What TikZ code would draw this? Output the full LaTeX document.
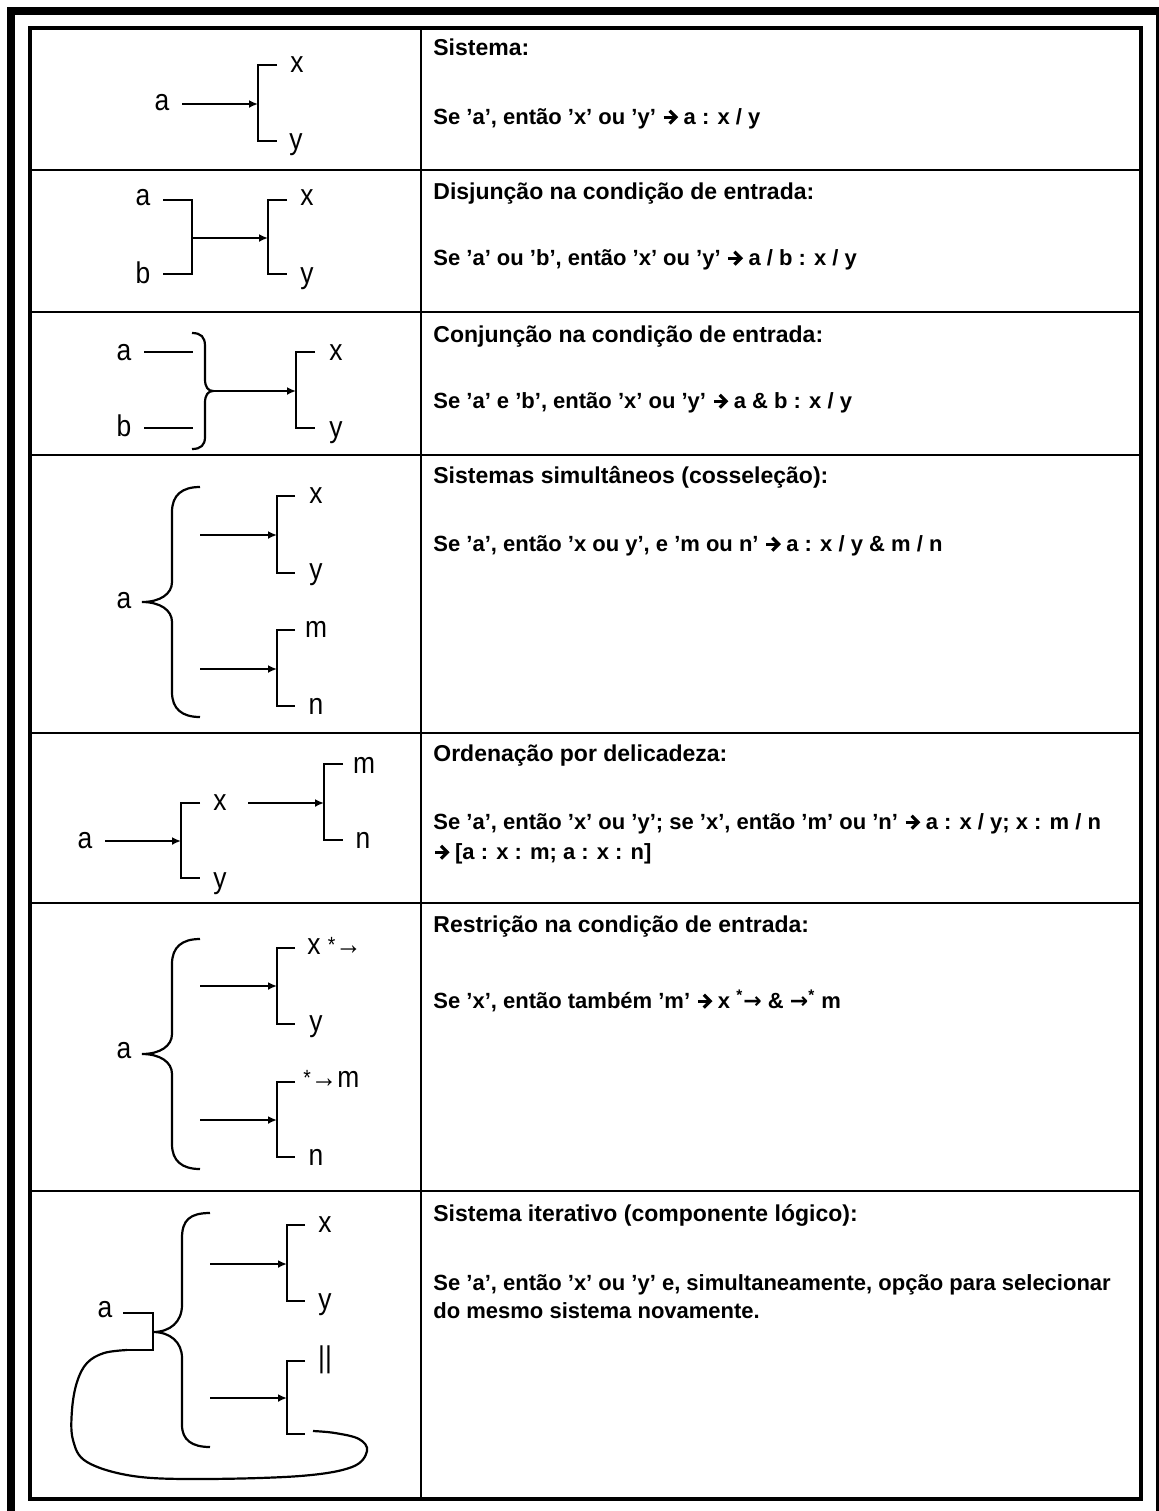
\documentclass[tikz,border=0pt]{standalone}
\usepackage{fontspec}
\usepackage{graphicx}
\setmainfont{Liberation Sans}
\newfontfamily\txtfont{Liberation Sans}
\newfontfamily\lblfont{Liberation Sans}[FakeStretch=0.88]
\newfontfamily\symfont{DejaVu Sans}
\usetikzlibrary{arrows.meta}
\newcommand\bigarr{\tikz[baseline=0pt,x=1pt,y=1pt]{\draw[line width=1.6pt] (0,3.4)--(5.6,3.4); \draw[line width=1.6pt,line join=miter,miter limit=10] (3,6.6)--(6.2,3.4)--(3,0.2);}}
\newcommand\thinarr{{\symfont →}}
\newcommand\brk[4]{\draw[ln] (#3,#1) -- (#2,#1) -- (#2,#4) -- (#3,#4);}
\begin{document}
\begin{tikzpicture}[x=0.5pt,y=-0.5pt,
  lbl/.style={font=\lblfont\fontsize{15}{15}\selectfont, inner sep=0pt, anchor=base},
  txt/.style={font=\txtfont\bfseries\fontsize{11}{14}\selectfont, anchor=base west, inner sep=0pt},
  ttl/.style={font=\txtfont\bfseries\fontsize{11.5}{14}\selectfont, anchor=base west, inner sep=0pt},
  ln/.style={line width=1.1pt},
  arr/.style={line width=1.1pt, -{Latex[length=4.5pt,width=4pt]}},
  gridln/.style={line width=1.1pt},
  frameln/.style={line width=4pt}]
\useasboundingbox (0,0) rectangle (1159,1511);
\clip (0,0) rectangle (1159,1511);
\fill[white] (0,0) rectangle (1159,1511);
% outer frame
\draw[frameln] (11,1530) -- (11,11) -- (1160,11) -- (1160,1530);
% table
\draw[line width=2pt] (30,28) rectangle (1141,1499);
\draw[gridln] (421,28) -- (421,1499);
\foreach \yy in {170,312,455,733,903,1191} \draw[gridln] (30,\yy) -- (1141,\yy);

% ---------- Row 1
\node[lbl] (r1a) at (162,110) {a};
\node[lbl] (r1x) at (297,72) {x};
\node[lbl] (r1y) at (296,149) {y};
\coordinate (r1s) at (182,104);
\coordinate (r1b) at (258,104);
\draw[arr] (r1s) -- (r1b);
\brk{65}{258}{277}{141}
\node[ttl] (t1a) at (433,55) {Sistema:};
\node[txt] (t1b) at (433,124) {Se ’a’, então ’x’ ou ’y’ \bigarr\ a : x / y};

% ---------- Row 2
\node[lbl] (r2a) at (143,205) {a};
\node[lbl] (r2b) at (143,283) {b};
\node[lbl] (r2x) at (307,205) {x};
\node[lbl] (r2y) at (307,283) {y};
\draw[ln] (163,200) -- (192,200) -- (192,274) -- (163,274);
\coordinate (r2s) at (192,238);
\coordinate (r2b2) at (268,238);
\draw[arr] (r2s) -- (r2b2);
\brk{200}{268}{287}{274}
\node[ttl] (t2a) at (433,199) {Disjunção na condição de entrada:};
\node[txt] (t2b) at (433,265) {Se ’a’ ou ’b’, então ’x’ ou ’y’ \bigarr\ a / b : x / y};

% ---------- Row 3
\node[lbl] (r3a) at (124,360) {a};
\node[lbl] (r3b) at (124,436) {b};
\node[lbl] (r3x) at (336,360) {x};
\node[lbl] (r3y) at (336,437) {y};
\draw[ln] (144,352) -- (193,352);
\draw[ln] (144,428) -- (193,428);
\draw[ln] (192,333) .. controls (201,333) and (205,337) .. (205,346) -- (205,379) .. controls (205,387) and (208,391) .. (213,391) .. controls (208,391) and (205,395) .. (205,403) -- (205,437) .. controls (205,445) and (201,449) .. (192,449);
\coordinate (r3s) at (213,391);
\coordinate (r3b2) at (296,391);
\draw[arr] (r3s) -- (r3b2);
\brk{352}{296}{315}{428}
\node[ttl] (t3a) at (433,342) {Conjunção na condição de entrada:};
\node[txt] (t3b) at (433,408) {Se ’a’ e ’b’, então ’x’ ou ’y’ \bigarr\ a \& b : x / y};

% ---------- Row 4
\node[lbl] (r4a) at (124,608) {a};
\node[lbl] (r4x) at (316,503) {x};
\node[lbl] (r4y) at (316,579) {y};
\node[lbl] (r4m) at (316,637) {m};
\node[lbl] (r4n) at (316,714) {n};
\draw[ln] (200,487) .. controls (182,487) and (172,495) .. (172,512) -- (172,582) .. controls (172,594) and (160,602) .. (142,602) .. controls (160,602) and (172,610) .. (172,622) -- (172,692) .. controls (172,709) and (182,717) .. (200,717);
\coordinate (r4s1) at (200,535);
\coordinate (r4b1) at (277,535);
\coordinate (r4s2) at (200,669);
\coordinate (r4b2) at (277,669);
\draw[arr] (r4s1) -- (r4b1);
\draw[arr] (r4s2) -- (r4b2);
\brk{496}{277}{295}{573}
\brk{630}{277}{295}{706}
\node[ttl] (t4a) at (433,483) {Sistemas simultâneos (cosseleção):};
\node[txt] (t4b) at (433,551) {Se ’a’, então ’x ou y’, e ’m ou n’ \bigarr\ a : x / y \& m / n};

% ---------- Row 5
\node[lbl] (r5a) at (85,848) {a};
\node[lbl] (r5x) at (220,810) {x};
\node[lbl] (r5y) at (220,888) {y};
\node[lbl] (r5m) at (364,773) {m};
\node[lbl] (r5n) at (363,848) {n};
\coordinate (r5s1) at (105,841);
\coordinate (r5b1) at (181,841);
\coordinate (r5s2) at (248,803);
\coordinate (r5b2) at (324,803);
\draw[arr] (r5s1) -- (r5b1);
\draw[arr] (r5s2) -- (r5b2);
\brk{803}{181}{200}{878}
\brk{764}{324}{343}{840}
\node[ttl] (t5a) at (433,761) {Ordenação por delicadeza:};
\node[txt] (t5b) at (433,829) {Se ’a’, então ’x’ ou ’y’; se ’x’, então ’m’ ou ’n’ \bigarr\ a : x / y; x : m / n};
\node[txt] (t5c) at (433,859) {\bigarr\ [a : x : m; a : x : n]};

% ---------- Row 6
\node[lbl] (r6a) at (124,1058) {a};
\node[lbl, anchor=base west] (r6x) at (307,954) {x {\fontsize{11}{11}\selectfont\raisebox{1pt}{*}}→};
\node[lbl] (r6y) at (316,1031) {y};
\node[lbl, anchor=base west] (r6m) at (303,1087) {{\fontsize{11}{11}\selectfont\raisebox{1pt}{*}}→m};
\node[lbl] (r6n) at (316,1165) {n};
\draw[ln] (200,939) .. controls (182,939) and (172,947) .. (172,964) -- (172,1034) .. controls (172,1046) and (160,1054) .. (142,1054) .. controls (160,1054) and (172,1062) .. (172,1074) -- (172,1144) .. controls (172,1161) and (182,1169) .. (200,1169);
\coordinate (r6s1) at (200,986);
\coordinate (r6b1) at (277,986);
\coordinate (r6s2) at (200,1120);
\coordinate (r6b2) at (277,1120);
\draw[arr] (r6s1) -- (r6b1);
\draw[arr] (r6s2) -- (r6b2);
\brk{948}{277}{295}{1024}
\brk{1082}{277}{295}{1157}
\node[ttl] (t6a) at (433,932) {Restrição na condição de entrada:};
\node[txt] (t6b) at (433,1008) {Se ’x’, então também ’m’ \bigarr\ x \textsuperscript{*}\thinarr\ \& \thinarr\textsuperscript{*} m};

% ---------- Row 7
\node[lbl] (r7a) at (105,1317) {a};
\node[lbl] (r7x) at (325,1232) {x};
\node[lbl] (r7y) at (325,1309) {y};
\node[lbl] (r7s) at (325,1367) {||};
\coordinate (r7k1) at (153,1313);
\coordinate (r7k2) at (153,1350);
\coordinate (r7k3) at (127,1350);
\coordinate (r7e) at (313,1431);
\draw[ln] (123,1313) -- (r7k1) -- (r7k2) -- (r7k3);
\draw[ln] plot[smooth, tension=0.6] coordinates {(127,1350) (104,1353) (87,1363) (77,1382) (72,1410) (73,1440) (87,1462) (133,1476) (200,1479) (300,1476) (352,1467) (367,1451) (359,1439) (335,1433) (313,1431)};
\draw[ln] (210,1213) .. controls (190,1213) and (182,1220) .. (182,1238) -- (182,1305) .. controls (182,1322) and (170,1332) .. (153,1332) .. controls (170,1332) and (182,1342) .. (182,1358) -- (182,1425) .. controls (182,1440) and (192,1447) .. (210,1447);
\coordinate (r7s1) at (210,1264);
\coordinate (r7b1) at (287,1264);
\coordinate (r7s2) at (210,1398);
\coordinate (r7b2) at (287,1398);
\draw[arr] (r7s1) -- (r7b1);
\draw[arr] (r7s2) -- (r7b2);
\brk{1225}{287}{305}{1301}
\brk{1361}{287}{305}{1434}
\node[ttl] (t7a) at (433,1221) {Sistema iterativo (componente lógico):};
\node[txt] (t7b) at (433,1290) {Se ’a’, então ’x’ ou ’y’ e, simultaneamente, opção para selecionar};
\node[txt] (t7c) at (433,1318) {do mesmo sistema novamente.};
\end{tikzpicture}
\end{document}
